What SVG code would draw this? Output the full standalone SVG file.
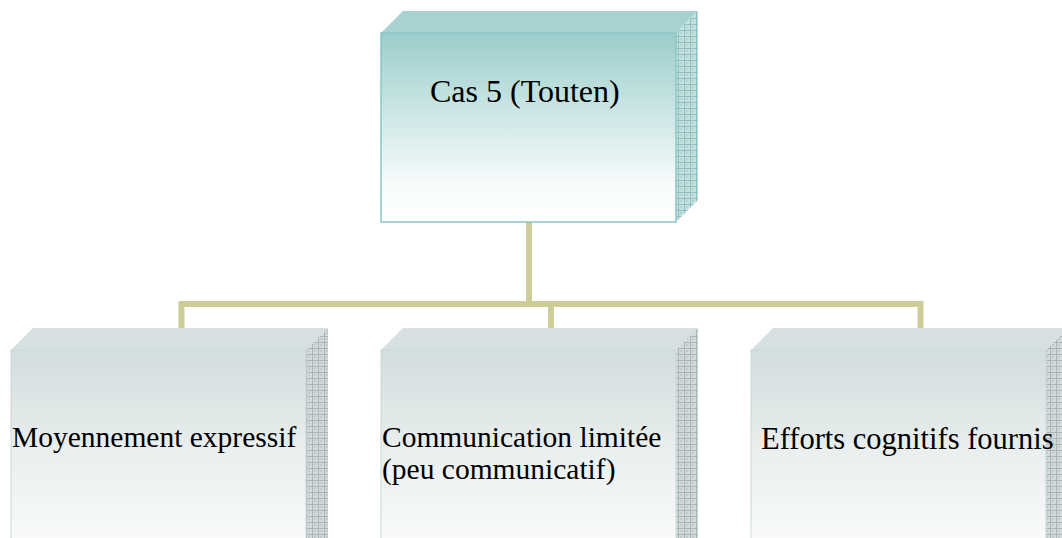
<svg xmlns="http://www.w3.org/2000/svg" width="1062" height="538" viewBox="0 0 1062 538">
<style>
text{font-family:'Liberation Serif','Times New Roman',Tinos,'DejaVu Serif',serif;fill:#000}
.conn{fill:none;stroke:#cdcd98;stroke-width:6;stroke-linejoin:miter;stroke-linecap:butt}
</style>
<defs>
<linearGradient id="gTop" x1="0" y1="0" x2="0" y2="1">
<stop offset="0" stop-color="#9bcdcc"/>
<stop offset="0.45" stop-color="#cfe8e7"/>
<stop offset="0.8" stop-color="#f7fbfb"/>
<stop offset="1" stop-color="#ffffff"/>
</linearGradient>
<linearGradient id="gBot" x1="0" y1="0" x2="0" y2="1">
<stop offset="0" stop-color="#d2dddd"/>
<stop offset="0.5" stop-color="#e9eeee"/>
<stop offset="1" stop-color="#fbfcfc"/>
</linearGradient>
<pattern id="pTop" width="6" height="6" patternUnits="userSpaceOnUse">
<rect width="6" height="6" fill="#c4e0df"/>
<path d="M0 0.5H6M0.5 0V6" stroke="#8fbfbe" stroke-width="1"/>
<path d="M2 2l2 2M4 2l-2 2" stroke="#a9d1d0" stroke-width="0.8"/>
</pattern>
<pattern id="pBot" width="6" height="6" patternUnits="userSpaceOnUse">
<rect width="6" height="6" fill="#d3dada"/>
<path d="M0 0.5H6M0.5 0V6" stroke="#aab5b5" stroke-width="1"/>
<path d="M2 2l2 2M4 2l-2 2" stroke="#bcc6c6" stroke-width="0.8"/>
</pattern>
</defs>

<g id="connectors">
<path class="conn" d="M529 222V307"/>
<path class="conn" d="M529 304H181.5V328"/>
<path class="conn" d="M529 304H551V328"/>
<path class="conn" d="M529 304H920.5V328"/>
</g>

<g id="node-top">
<polygon points="381,33 403,11 698,11 676,33" fill="#a6d3d2"/>
<polygon points="676,33 698,11 698,200 676,222" fill="url(#pTop)"/>
<rect x="381" y="33" width="295" height="189" fill="url(#gTop)" stroke="#8cc6c5" stroke-width="1.5"/>
<text x="430" y="102" font-size="32" font-family="Liberation Serif, serif">Cas 5 (Touten)</text>
</g>

<g id="node-1">
<polygon points="11,350 33,328 328,328 306,350" fill="#d6e0e0"/>
<polygon points="306,350 328,328 328,540 306,540" fill="url(#pBot)"/>
<rect x="11" y="350" width="295" height="200" fill="url(#gBot)" stroke="#cbd8d8" stroke-width="1"/>
<text x="12" y="447" font-size="29.5" font-family="Liberation Serif, serif">Moyennement expressif</text>
</g>

<g id="node-2">
<polygon points="381,350 403,328 698,328 676,350" fill="#d6e0e0"/>
<polygon points="676,350 698,328 698,540 676,540" fill="url(#pBot)"/>
<rect x="381" y="350" width="295" height="200" fill="url(#gBot)" stroke="#cbd8d8" stroke-width="1"/>
<text x="382" y="447" font-size="29.5" font-family="Liberation Serif, serif">Communication limitée</text>
<text x="382" y="479" font-size="29.5" font-family="Liberation Serif, serif">(peu communicatif)</text>
</g>

<g id="node-3">
<polygon points="751,350 773,328 1068,328 1046,350" fill="#d6e0e0"/>
<polygon points="1046,350 1068,328 1068,540 1046,540" fill="url(#pBot)"/>
<rect x="751" y="350" width="295" height="200" fill="url(#gBot)" stroke="#cbd8d8" stroke-width="1"/>
<text x="761" y="449" font-size="30.5" font-family="Liberation Serif, serif">Efforts cognitifs fournis</text>
</g>
</svg>
